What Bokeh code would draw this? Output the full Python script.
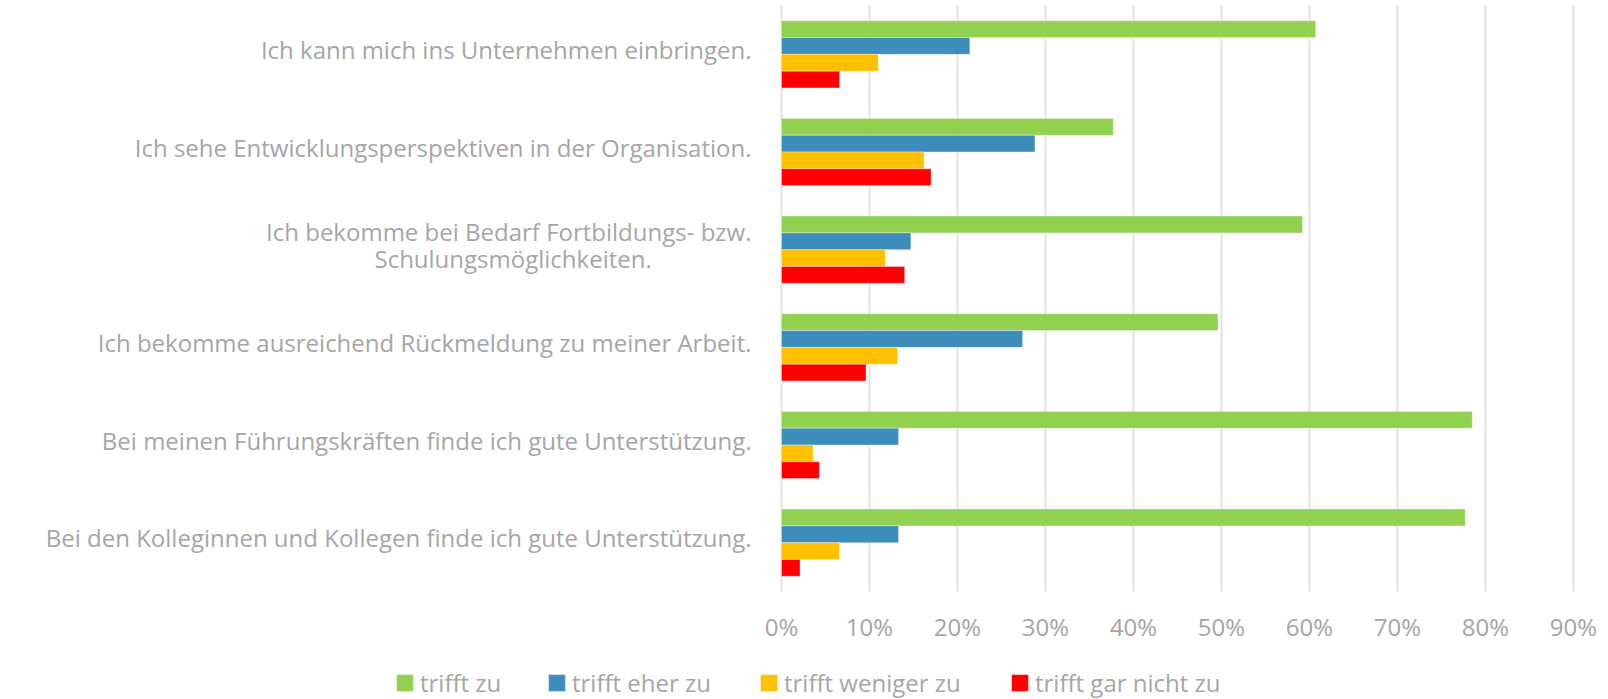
from bokeh.plotting import figure
from bokeh.models import Range1d, Legend, LegendItem, FixedTicker, NumeralTickFormatter, ColumnDataSource
from bokeh.transform import dodge
from bokeh.embed import file_html
from bokeh.resources import INLINE

NB = "\u00a0"
categories = [
    "Ich kann mich ins Unternehmen einbringen.",
    "Ich sehe Entwicklungsperspektiven in der Organisation.",
    "Ich bekomme bei Bedarf Fortbildungs- bzw.\nSchulungsmöglichkeiten." + NB * 16,
    "Ich bekomme ausreichend Rückmeldung zu meiner Arbeit.",
    "Bei meinen Führungskräften finde ich gute Unterstützung.",
    "Bei den Kolleginnen und Kollegen finde ich gute Unterstützung.",
]
series_names = ["trifft zu", "trifft eher zu", "trifft weniger zu", "trifft gar nicht zu"]
trifft_zu = [0.607, 0.377, 0.592, 0.496, 0.785, 0.777]
trifft_eher_zu = [0.214, 0.288, 0.147, 0.274, 0.133, 0.133]
trifft_weniger_zu = [0.110, 0.162, 0.118, 0.132, 0.036, 0.066]
trifft_gar_nicht_zu = [0.066, 0.170, 0.140, 0.096, 0.043, 0.021]
x_ticks = [0, 0.1, 0.2, 0.3, 0.4, 0.5, 0.6, 0.7, 0.8, 0.9]

colors = ["#92D050", "#3C8DBC", "#FFC000", "#FF0000"]
FONT = "Open Sans"
GRAY = "#A6A6A6"
FS = "24px"

W, H = 1608, 699
X0_PX, PX_PER_UNIT = 781.0, 880.0          # x=0 position and scale (px per 100%)
TOP_PX, CAT_PX = 5.0, 97.67                # top of category area, px per category
LABEL_SHIFT = 5.0 / CAT_PX                 # category labels sit slightly above bar-group centre
n = len(categories)
cat_pos = [n - 0.5 - i for i in range(n)]  # top category highest
label_pos = [c + LABEL_SHIFT for c in cat_pos]

src = ColumnDataSource(dict(y=cat_pos, s0=trifft_zu, s1=trifft_eher_zu,
                            s2=trifft_weniger_zu, s3=trifft_gar_nicht_zu))

p = figure(width=W, height=H, output_backend="svg", toolbar_location=None,
           x_range=Range1d(-X0_PX / PX_PER_UNIT, (W - X0_PX) / PX_PER_UNIT),
           y_range=Range1d(n - (H - TOP_PX) / CAT_PX, n + TOP_PX / CAT_PX),
           min_border_left=0, min_border_right=0, min_border_top=0, min_border_bottom=0)

# vertical grid lines over the category area
p.segment(x0=x_ticks, x1=x_ticks, y0=[0] * len(x_ticks), y1=[n] * len(x_ticks),
          line_color="#E3E3E3", line_width=2)

bar_h = 0.172
offsets = [1.5 * bar_h, 0.5 * bar_h, -0.5 * bar_h, -1.5 * bar_h]
renderers = []
for i, col in enumerate(["s0", "s1", "s2", "s3"]):
    r = p.hbar(y=dodge("y", offsets[i]), right=col, left=0, height=bar_h,
               source=src, fill_color=colors[i], line_color="white", line_alpha=0.35, line_width=1)
    renderers.append(r)

p.outline_line_color = None
p.xgrid.visible = False
p.ygrid.visible = False

p.xaxis.fixed_location = 0
p.xaxis.ticker = FixedTicker(ticks=x_ticks)
p.xaxis.formatter = NumeralTickFormatter(format="0%")
p.xaxis.major_label_standoff = 12

p.yaxis.fixed_location = 0
p.yaxis.ticker = FixedTicker(ticks=label_pos)
p.yaxis.major_label_overrides = {pos: lab for pos, lab in zip(label_pos, categories)}
p.yaxis.major_label_standoff = 24
p.yaxis.major_label_text_line_height = 0.82

for ax in (p.xaxis[0], p.yaxis[0]):
    ax.axis_line_color = None
    ax.major_tick_line_color = None
    ax.minor_tick_line_color = None
    ax.major_label_text_font = FONT
    ax.major_label_text_font_size = FS
    ax.major_label_text_color = GRAY

legend_x = [394, 546, 758, 1009]
for i in range(4):
    lg = Legend(items=[LegendItem(label=series_names[i], renderers=[renderers[i]])],
                location=(legend_x[i], 0), orientation="horizontal",
                glyph_width=21, glyph_height=21, label_standoff=5,
                padding=0, margin=0, label_height=17,
                label_text_font=FONT, label_text_font_size=FS, label_text_color=GRAY,
                border_line_color=None, background_fill_alpha=0)
    p.add_layout(lg, "center")

open("out.html", "w").write(file_html(p, INLINE))
